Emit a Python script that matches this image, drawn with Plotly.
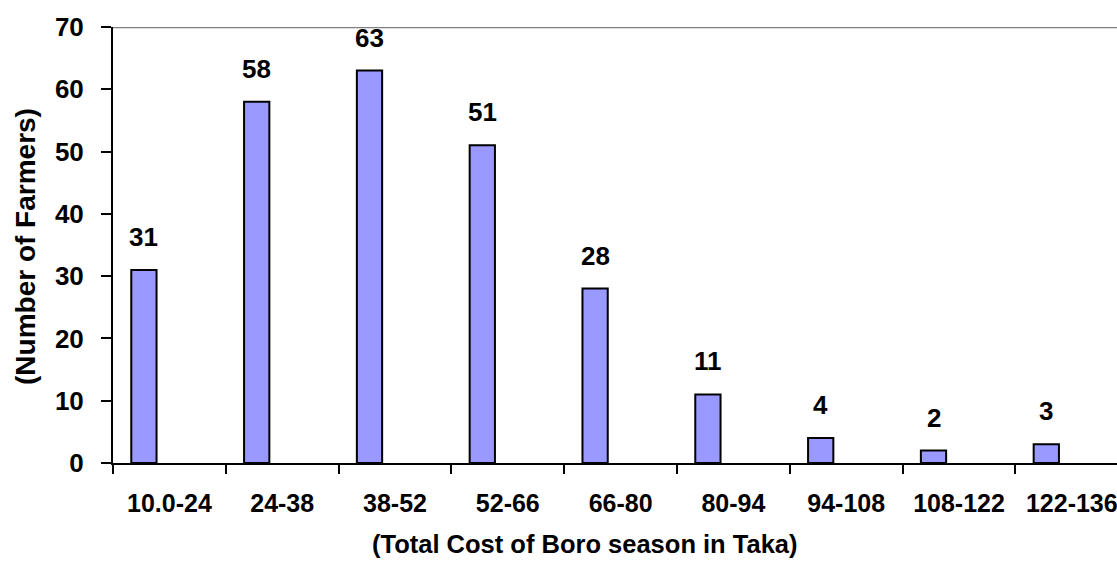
import plotly.graph_objects as go

categories = ["10.0-24", "24-38", "38-52", "52-66", "66-80", "80-94", "94-108", "108-122", "122-136"]
farmers = [31, 58, 63, 51, 28, 11, 4, 2, 3]
y_ticks = [0, 10, 20, 30, 40, 50, 60, 70]

FONT = "Liberation Sans, Arial, sans-serif"
W, H = 1117, 566
ML, MR, MT, MB = 113, 0, 27, 103
cat_px = 112.8
bar_offset = -0.338
bar_width = 0.224
PW, PH = W - ML - MR, H - MT - MB

fig = go.Figure()
fig.add_trace(go.Bar(
    x=categories, y=farmers,
    offset=bar_offset, width=bar_width,
    marker=dict(color="#9999FF", line=dict(color="black", width=2)),
    hoverinfo="x+y",
))

label_shift = (bar_offset + bar_width / 2) * cat_px
for c, v in zip(categories, farmers):
    fig.add_annotation(
        x=c, y=v, text=f"<b>{v}</b>", showarrow=False,
        xanchor="center", yanchor="bottom", xshift=label_shift, yshift=16,
        font=dict(family=FONT, size=26, color="black"),
    )

fig.add_shape(type="line", xref="paper", yref="y", x0=0, x1=1, y0=70, y1=70,
              line=dict(color="#808080", width=2.5))

# x-axis title centred at page pixel (585, 544)
fig.add_annotation(
    xref="paper", yref="paper", x=(585 - ML) / PW, y=-(544 - (H - MB)) / PH,
    text="<b>(Total Cost of Boro season in Taka)</b>", showarrow=False,
    xanchor="center", yanchor="middle", font=dict(family=FONT, size=25.5, color="black"),
)
# y-axis title centred at page pixel (25, 247)
fig.add_annotation(
    xref="paper", yref="paper", x=(25 - ML) / PW, y=1 - (247 - MT) / PH,
    text="<b>(Number of Farmers)</b>", showarrow=False, textangle=-90,
    xanchor="center", yanchor="middle", font=dict(family=FONT, size=28, color="black"),
)

fig.update_layout(
    width=W, height=H,
    margin=dict(l=ML, r=MR, t=MT, b=MB, pad=0, autoexpand=False),
    plot_bgcolor="white", paper_bgcolor="white",
    showlegend=False,
    font=dict(family=FONT, size=25, color="black"),
    xaxis=dict(
        type="category", range=[-0.5, -0.5 + PW / cat_px],
        tickson="boundaries", ticks="outside", ticklen=9, tickwidth=2, tickcolor="black",
        showline=True, linecolor="black", linewidth=2,
        showgrid=False, zeroline=False, automargin=False,
        tickfont=dict(family=FONT, size=25, color="black", weight="bold"),
        ticklabelstandoff=17,
    ),
    yaxis=dict(
        range=[0, 70], tickvals=y_ticks,
        ticks="outside", ticklen=10, tickwidth=2, tickcolor="black",
        showline=True, linecolor="black", linewidth=2,
        showgrid=False, zeroline=False, automargin=False,
        tickfont=dict(family=FONT, size=26, color="black", weight="bold"),
        ticklabelstandoff=12,
    ),
)

fig.write_html(
    "out.html",
    config={"displayModeBar": False},
    post_script="document.body.style.margin='0';document.body.style.overflow='hidden';",
)
